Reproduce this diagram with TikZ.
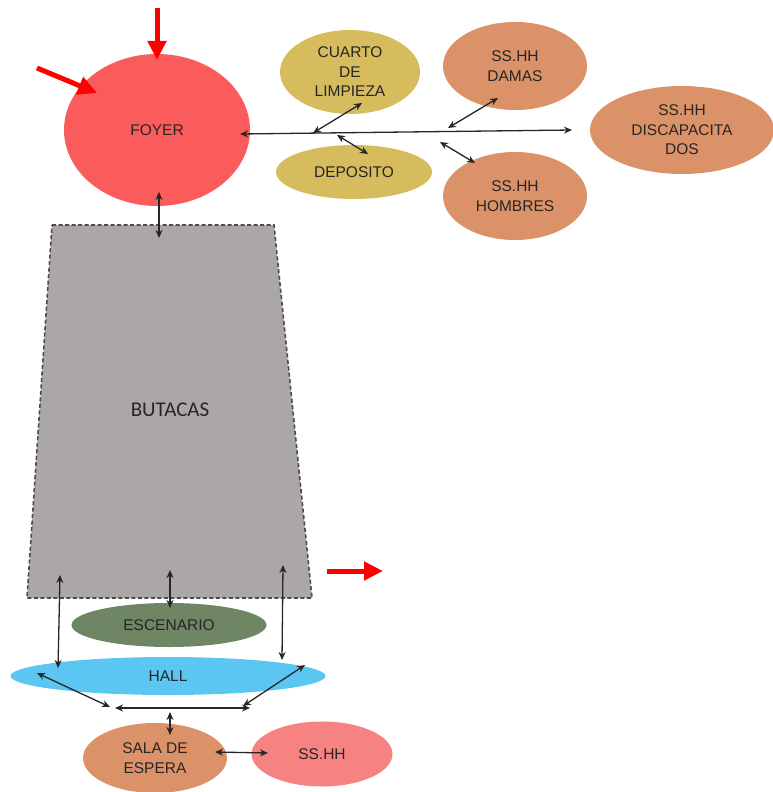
\documentclass[tikz,border=0pt]{standalone}
\usepackage{fontspec}
\setmainfont{Liberation Sans}
\newfontfamily\seatfont{Carlito}
\usetikzlibrary{shapes.geometric,arrows.meta}
\definecolor{foyerred}{RGB}{250,92,92}
\definecolor{olivegold}{RGB}{214,188,92}
\definecolor{tanroom}{RGB}{220,146,104}
\definecolor{sagegreen}{RGB}{110,134,100}
\definecolor{skyblue}{RGB}{92,198,242}
\definecolor{seatgrey}{RGB}{172,167,167}
\definecolor{pinkwc}{RGB}{247,130,130}
\tikzset{
	room/.style={ellipse,inner sep=0pt,align=center,text=black!85,font=\fontsize{15.5}{19.5}\selectfont},
	link/.style={{Stealth[length=8pt,width=7pt]}-{Stealth[length=8pt,width=7pt]},line width=1.3pt,black!85},
	entry/.style={-{Triangle[length=19pt,width=18pt]},red,line width=5pt}
}
\begin{document}
\begin{tikzpicture}[x=1pt,y=-1pt]
	\useasboundingbox (0,0) rectangle (772,792);
	% rooms
	\node[room,fill=foyerred,minimum width=186pt,minimum height=152pt] (foyer) at (157,130) {FOYER};
	\node[room,fill=olivegold,minimum width=140pt,minimum height=84pt] (cuarto) at (350,72) {CUARTO\\DE\\LIMPIEZA};
	\node[room,fill=olivegold,minimum width=156pt,minimum height=54pt] (deposito) at (354,172) {DEPOSITO};
	\node[room,fill=tanroom,minimum width=144pt,minimum height=88pt] (damas) at (515,66) {SS.HH\\DAMAS};
	\node[room,fill=tanroom,minimum width=144pt,minimum height=88pt] (hombres) at (515,196) {SS.HH\\HOMBRES};
	\node[room,fill=tanroom,minimum width=184pt,minimum height=88pt] (discap) at (682,130) {SS.HH\\DISCAPACITA\\DOS};
	\fill[seatgrey] (52,225) -- (274,225) -- (312,598) -- (27,598) -- cycle;
	\draw[line width=1.6pt,black!70,dash pattern=on 4pt off 2.5pt] (52,225) -- (274,225) -- (312,598) -- (27,598) -- cycle;
	\node[font=\seatfont\fontsize{21}{24}\selectfont,text=black!85] (butacas) at (170,410) {BUTACAS};
	\node[room,fill=sagegreen,minimum width=195pt,minimum height=44pt] (escenario) at (169,625) {ESCENARIO};
	\node[room,fill=skyblue,minimum width=315pt,minimum height=38pt] (hall) at (168,676) {HALL};
	\node[room,fill=tanroom,minimum width=144pt,minimum height=70pt] (sala) at (155,758) {SALA DE\\ESPERA};
	\node[room,fill=pinkwc,minimum width=141pt,minimum height=65pt] (sshh) at (322,754) {SS.HH};
	% connector ends
	\coordinate (fy-s) at (159,192);
	\coordinate (bt-n) at (159,238);
	\coordinate (hl-w) at (240,134);
	\coordinate (hl-e) at (572,130);
	\coordinate (j-cu) at (313,133);
	\coordinate (cu-s) at (362,103);
	\coordinate (j-de) at (337,135);
	\coordinate (de-n) at (368,154);
	\coordinate (j-da) at (448,128);
	\coordinate (da-s) at (498,98);
	\coordinate (j-ho) at (440,142);
	\coordinate (ho-n) at (475,163);
	\coordinate (bt-l) at (60,575);
	\coordinate (ha-l) at (58,668);
	\coordinate (bt-m) at (170,570);
	\coordinate (es-n) at (170,608);
	\coordinate (bt-r) at (283,565);
	\coordinate (ha-r) at (282,660);
	\coordinate (ha-w) at (37,673);
	\coordinate (lo-w) at (110,707);
	\coordinate (ha-e) at (305,665);
	\coordinate (lo-e) at (243,706);
	\coordinate (bar-w) at (115,708);
	\coordinate (bar-e) at (250,708);
	\coordinate (bar-m) at (170,712);
	\coordinate (sa-n) at (170,735);
	\coordinate (sa-e) at (215,752);
	\coordinate (wc-w) at (268,753);
	% connectors
	\draw[link] (fy-s) -- (bt-n);
	\draw[link] (hl-w) -- (hl-e);
	\draw[link] (j-cu) -- (cu-s);
	\draw[link] (j-de) -- (de-n);
	\draw[link] (j-da) -- (da-s);
	\draw[link] (j-ho) -- (ho-n);
	\draw[link] (bt-l) -- (ha-l);
	\draw[link] (bt-m) -- (es-n);
	\draw[link] (bt-r) -- (ha-r);
	\draw[link] (ha-w) -- (lo-w);
	\draw[link] (ha-e) -- (lo-e);
	\draw[link] (bar-w) -- (bar-e);
	\draw[link] (bar-m) -- (sa-n);
	\draw[link] (sa-e) -- (wc-w);
	% entrances and exit
	\coordinate (in-top) at (157,8);
	\coordinate (in-diag) at (37,68);
	\coordinate (out-a) at (327,571);
	\coordinate (out-b) at (383,571);
	\draw[entry] (in-top) -- (157,60);
	\draw[entry] (in-diag) -- (97,93);
	\draw[entry] (out-a) -- (out-b);
\end{tikzpicture}
\end{document}
